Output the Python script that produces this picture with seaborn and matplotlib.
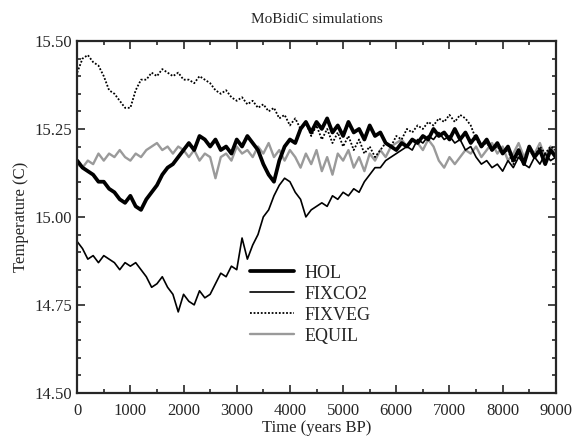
import numpy as np
import pandas as pd
import matplotlib
matplotlib.use("Agg")
import matplotlib.pyplot as plt
from matplotlib.lines import Line2D
from matplotlib.ticker import MultipleLocator
import seaborn as sns

years = list(range(0, 9001, 100))

hol = [15.16, 15.14, 15.13, 15.12, 15.10, 15.10, 15.08, 15.07, 15.05, 15.04,
       15.06, 15.03, 15.02, 15.05, 15.07, 15.09, 15.12, 15.14, 15.15, 15.17,
       15.19, 15.21, 15.19, 15.23, 15.22, 15.20, 15.22, 15.19, 15.20, 15.18,
       15.22, 15.20, 15.23, 15.21, 15.19, 15.15, 15.12, 15.10, 15.16, 15.20,
       15.22, 15.21, 15.25, 15.27, 15.24, 15.27, 15.25, 15.28, 15.24, 15.26,
       15.23, 15.27, 15.24, 15.25, 15.22, 15.26, 15.23, 15.24, 15.21, 15.20,
       15.19, 15.21, 15.20, 15.22, 15.21, 15.23, 15.22, 15.25, 15.23, 15.24,
       15.22, 15.25, 15.22, 15.24, 15.21, 15.23, 15.20, 15.22, 15.19, 15.21,
       15.18, 15.20, 15.16, 15.19, 15.15, 15.20, 15.17, 15.19, 15.15, 15.19,
       15.17]

fixco2 = [14.93, 14.91, 14.88, 14.89, 14.87, 14.89, 14.88, 14.87, 14.85, 14.87,
          14.86, 14.87, 14.85, 14.83, 14.80, 14.81, 14.83, 14.80, 14.78, 14.73,
          14.78, 14.76, 14.75, 14.79, 14.77, 14.78, 14.81, 14.84, 14.83, 14.86,
          14.85, 14.94, 14.88, 14.92, 14.95, 15.00, 15.02, 15.06, 15.09, 15.11,
          15.10, 15.07, 15.05, 15.00, 15.02, 15.03, 15.04, 15.03, 15.06, 15.05,
          15.07, 15.06, 15.08, 15.07, 15.10, 15.12, 15.14, 15.14, 15.16, 15.17,
          15.18, 15.19, 15.20, 15.19, 15.22, 15.21, 15.23, 15.22, 15.24, 15.22,
          15.23, 15.21, 15.22, 15.19, 15.20, 15.17, 15.15, 15.16, 15.14, 15.15,
          15.13, 15.16, 15.14, 15.17, 15.15, 15.14, 15.17, 15.15, 15.18, 15.16,
          15.17]

fixveg = [15.41, 15.45, 15.46, 15.44, 15.43, 15.40, 15.36, 15.35, 15.33, 15.31,
          15.31, 15.36, 15.39, 15.39, 15.41, 15.40, 15.42, 15.41, 15.40, 15.41,
          15.39, 15.39, 15.38, 15.40, 15.39, 15.38, 15.36, 15.35, 15.36, 15.34,
          15.33, 15.34, 15.32, 15.33, 15.31, 15.32, 15.30, 15.31, 15.28, 15.29,
          15.26, 15.28, 15.25, 15.27, 15.23, 15.26, 15.22, 15.25, 15.21, 15.24,
          15.20, 15.23, 15.19, 15.22, 15.18, 15.20, 15.17, 15.19, 15.21, 15.20,
          15.23, 15.22, 15.25, 15.24, 15.26, 15.25, 15.27, 15.26, 15.28, 15.27,
          15.29, 15.27, 15.29, 15.28, 15.26, 15.22, 15.20, 15.21, 15.19, 15.20,
          15.18, 15.19, 15.15, 15.18, 15.16, 15.19, 15.17, 15.20, 15.18, 15.20,
          15.19]

equil = [15.15, 15.14, 15.16, 15.15, 15.18, 15.16, 15.18, 15.17, 15.19, 15.17,
         15.16, 15.18, 15.17, 15.19, 15.20, 15.21, 15.19, 15.20, 15.18, 15.20,
         15.19, 15.17, 15.19, 15.16, 15.18, 15.17, 15.11, 15.17, 15.18, 15.16,
         15.20, 15.18, 15.19, 15.17, 15.20, 15.18, 15.21, 15.17, 15.19, 15.16,
         15.19, 15.17, 15.14, 15.18, 15.15, 15.19, 15.13, 15.17, 15.12, 15.18,
         15.16, 15.19, 15.14, 15.17, 15.13, 15.18, 15.16, 15.19, 15.17, 15.20,
         15.21, 15.22, 15.20, 15.22, 15.21, 15.19, 15.22, 15.20, 15.16, 15.14,
         15.17, 15.15, 15.17, 15.19, 15.18, 15.20, 15.17, 15.19, 15.21, 15.18,
         15.20, 15.16, 15.18, 15.21, 15.17, 15.20, 15.18, 15.21, 15.17, 15.20,
         15.18]

series_names = ["HOL", "FIXCO2", "FIXVEG", "EQUIL"]
x_ticks = [0, 1000, 2000, 3000, 4000, 5000, 6000, 7000, 8000, 9000]
y_ticks = [14.50, 14.75, 15.00, 15.25, 15.50]

sns.set_style("ticks")
plt.rcParams["font.family"] = ["Liberation Serif", "DejaVu Serif"]

fig = plt.figure(figsize=(5.76, 4.36), dpi=100)
ax = fig.add_axes([0.134, 0.099, 0.831, 0.807])

styles = {
    "HOL": dict(color="black", lw=2.7, ls="-"),
    "FIXCO2": dict(color="black", lw=1.2, ls="-"),
    "FIXVEG": dict(color="black", lw=1.3, ls=(0, (1, 1))),
    "EQUIL": dict(color="#9a9a9a", lw=1.7, ls="-"),
}
data = {"HOL": hol, "FIXCO2": fixco2, "FIXVEG": fixveg, "EQUIL": equil}
order = ["EQUIL", "FIXVEG", "FIXCO2", "HOL"]
for name in order:
    df = pd.DataFrame({"year": years, "T": data[name]})
    st = styles[name]
    sns.lineplot(data=df, x="year", y="T", ax=ax, color=st["color"],
                 linewidth=st["lw"], linestyle=st["ls"], legend=False)

ax.set_xlim(0, 9000)
ax.set_ylim(14.5, 15.5)
ax.set_xticks(x_ticks)
ax.set_xticklabels([str(v) for v in x_ticks])
ax.set_yticks(y_ticks)
ax.set_yticklabels([f"{v:.2f}" for v in y_ticks])
ax.xaxis.set_minor_locator(MultipleLocator(500))
ax.yaxis.set_minor_locator(MultipleLocator(0.05))
ax.tick_params(which="both", direction="in", top=True, right=True, width=1.2)
ax.tick_params(which="major", length=6, labelsize=12)
ax.tick_params(axis="x", which="major", pad=7)
ax.tick_params(which="minor", length=3)
for sp in ax.spines.values():
    sp.set_linewidth(1.6)
    sp.set_visible(True)

ax.set_xlabel("Time (years BP)", fontsize=12, labelpad=1)
ax.set_ylabel("Temperature (C)", fontsize=12, labelpad=4)
ax.set_title("MoBidiC simulations", fontsize=11, pad=13)

handles = [Line2D([], [], color=styles[n]["color"], lw=styles[n]["lw"],
                  ls=styles[n]["ls"]) for n in series_names]
ax.legend(handles, series_names, loc="upper left", bbox_to_anchor=(0.343, 0.39),
          frameon=False, fontsize=13, handlelength=2.4, handletextpad=0.6,
          labelspacing=0.22, borderpad=0)

fig.savefig("out.png", dpi=100)
